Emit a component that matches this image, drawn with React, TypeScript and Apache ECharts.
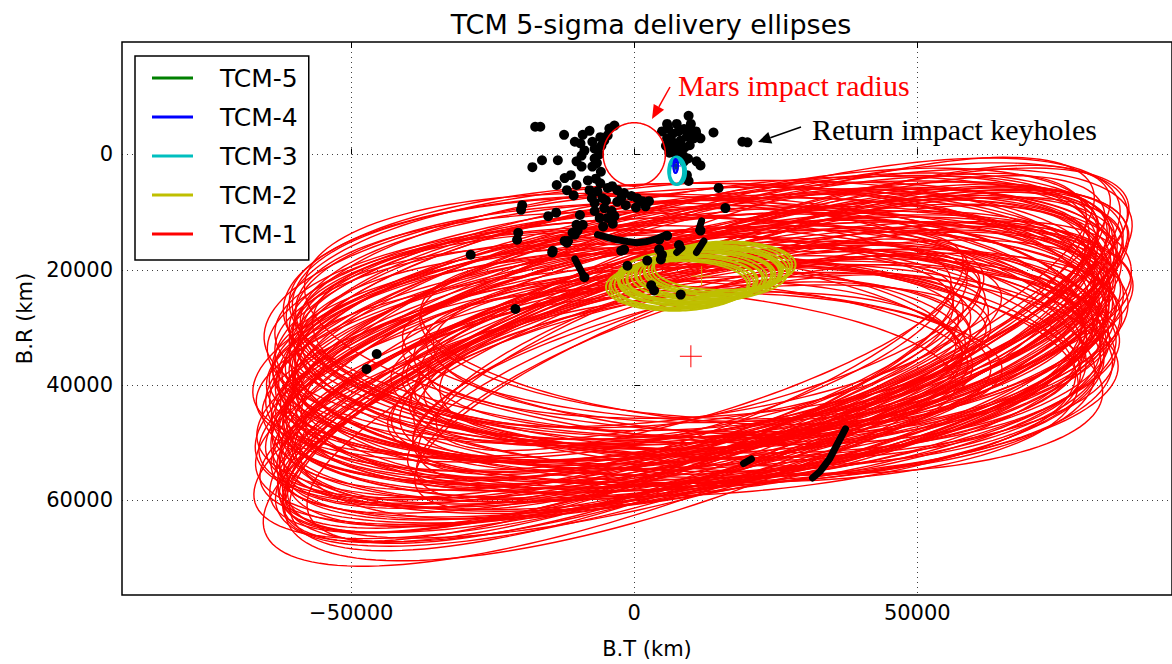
import React, { useEffect, useRef } from "react";
import * as echarts from "echarts";

// ---- axis ticks ----
const xTickValues = [-50000, 0, 50000];
const yTickValues = [0, 20000, 40000, 60000];
const legendNames = ["TCM-5", "TCM-4", "TCM-3", "TCM-2", "TCM-1"];

// ---- ellipses: [center B.T, center B.R, semi-axis 1, semi-axis 2, tilt deg] (km) ----
const tcm1Outer = [
  [10000, 33000, 76000, 19000, -21],
  [11000, 34500, 78000, 18000, -21],
  [9500, 36000, 75000, 20000, -21],
  [10500, 35500, 77000, 19000, -20],
  [12000, 37000, 74000, 18000, -20],
  [9000, 38500, 79000, 20000, -20],
  [10000, 36000, 76000, 17000, -19],
  [11500, 34000, 80000, 19000, -19],
  [9500, 39000, 75000, 21000, -19],
  [10500, 35500, 77000, 18000, -18],
  [12000, 37000, 79000, 20000, -18],
  [9000, 38000, 74000, 19000, -18],
  [11000, 31000, 78000, 21000, -17],
  [10000, 33000, 75000, 18000, -17],
  [12500, 35000, 77000, 20000, -17],
  [9500, 37000, 80000, 19000, -17],
  [10500, 39000, 76000, 17000, -16],
  [11000, 30500, 79000, 20000, -16],
  [9000, 32500, 74000, 21000, -16],
  [12000, 34000, 78000, 19000, -16],
  [10000, 36000, 75000, 20000, -15],
  [11500, 38000, 77000, 18000, -15],
  [9500, 40000, 74000, 19000, -15],
  [10500, 31500, 80000, 21000, -15],
  [10000, 29500, 74000, 21000, -14],
  [11000, 31500, 76000, 20000, -14],
  [9500, 33500, 78000, 19000, -14],
  [12000, 35500, 73000, 22000, -14],
  [10500, 37500, 75000, 20000, -13],
  [9000, 39500, 77000, 18000, -13],
  [11500, 30500, 72000, 22000, -13],
  [10000, 34500, 76000, 21000, -13],
  [12500, 36500, 74000, 19000, -12],
  [9500, 38500, 78000, 20000, -12],
  [11000, 29000, 75000, 21000, -12],
  [10000, 32000, 73000, 22000, -12],
  [10500, 40000, 76000, 18000, -11],
  [9000, 35000, 77000, 20000, -11],
  [12000, 31000, 74000, 21000, -11],
  [11000, 33000, 72000, 19000, -11],
  [10000, 37000, 75000, 22000, -10],
  [9500, 28500, 78000, 20000, -10],
  [11500, 39000, 73000, 19000, -10],
  [10500, 30500, 76000, 21000, -10],
  [12000, 34000, 77000, 20000, -9],
  [9000, 36500, 74000, 21000, -9],
  [10000, 40000, 72000, 19000, -9],
  [11000, 28500, 75000, 22000, -9],
  [10500, 32500, 78000, 18000, -8],
  [9500, 38000, 73000, 20000, -8],
  [12500, 30000, 76000, 21000, -8],
  [10000, 35500, 74000, 22000, -8],
  [10000, 27500, 74000, 21000, -7],
  [11000, 29500, 72000, 22000, -7],
  [9500, 31500, 75000, 20000, -7],
  [12000, 33500, 73000, 23000, -7],
  [10500, 35500, 76000, 21000, -6],
  [9000, 37500, 71000, 20000, -6],
  [11500, 39500, 74000, 19000, -6],
  [10000, 30000, 72000, 22000, -6],
  [12500, 32000, 75000, 21000, -5],
  [9500, 34000, 70000, 23000, -5],
  [11000, 36000, 73000, 20000, -5],
  [10000, 38500, 76000, 19000, -5],
  [10500, 27000, 71000, 22000, -4],
  [9000, 29000, 74000, 21000, -4],
  [12000, 31000, 72000, 23000, -4],
  [11000, 33000, 75000, 20000, -4],
  [10000, 35000, 70000, 22000, -3],
  [9500, 37000, 73000, 21000, -3],
  [11500, 39000, 71000, 20000, -3],
  [10500, 28000, 76000, 22000, -3],
  [12000, 30000, 73000, 21000, -2],
  [9000, 32500, 70000, 23000, -2],
  [10000, 34500, 74000, 20000, -2],
  [11000, 36500, 72000, 21000, -1],
  [10500, 38000, 75000, 19000, -1],
  [9500, 27000, 71000, 22000, -1],
  [10000, 27000, 72000, 22000, 0],
  [11000, 29000, 70000, 21000, 0],
  [9500, 31000, 73000, 20000, 0],
  [12000, 33000, 71000, 22000, 1],
  [10500, 35000, 74000, 21000, 1],
  [9000, 37000, 69000, 20000, 1],
  [11000, 28000, 72000, 21000, 2],
  [10000, 30500, 70000, 22000, 2],
  [12000, 32500, 73000, 20000, 2],
  [10500, 34500, 71000, 21000, 3],
  [9500, 36500, 69000, 20000, 3],
  [11500, 29500, 72000, 22000, 3],
  [10000, 31500, 70000, 21000, 4],
  [11000, 33500, 68000, 20000, 4],
  [12000, 35500, 71000, 19000, 5],
  [10500, 28500, 69000, 21000, 5],
];
const tcm1Inner = [
  [10000, 35000, 51000, 13500, -20],
  [10500, 37500, 53000, 12500, -18],
  [12000, 33000, 49000, 12000, -17],
  [11000, 36500, 52000, 13000, -16],
  [8500, 34000, 49000, 14000, -15],
  [9500, 38000, 50000, 12500, -14],
  [11000, 32500, 52000, 13000, -13],
  [11000, 35500, 55000, 14000, -12],
  [9500, 37000, 54000, 13000, -11],
  [11000, 33500, 46000, 14000, -10],
  [10000, 35500, 50000, 13000, -9],
  [9000, 38500, 51000, 14500, -9],
  [10500, 32000, 52000, 13500, -8],
  [12500, 36000, 50000, 12000, -7],
  [8500, 33500, 49000, 13000, -6],
  [9000, 37000, 48000, 12500, -5],
  [11500, 34500, 48000, 13000, -4],
  [12000, 32500, 51000, 13000, -3],
  [10000, 36500, 48000, 14500, -2],
  [10000, 38000, 53000, 14000, -1],
  [11500, 33000, 47000, 13500, 0],
  [12000, 35500, 53000, 12500, 2],
  [9000, 34000, 50000, 12000, 3],
  [10000, 36000, 47000, 12000, 5],
  [10000, 31500, 48000, 14000, 4],
  [9000, 39500, 50000, 13000, -19],
  [11000, 32000, 49000, 14000, 6],
  [10000, 39000, 52000, 13500, -21],
];
const tcm2Ellipses = [
  [7500, 22800, 12500, 4300, -1],
  [8000, 22600, 12400, 4200, -2],
  [8500, 22400, 12600, 4300, -1],
  [9000, 22200, 12500, 4400, -2],
  [9500, 22000, 12300, 4300, -1],
  [10000, 21800, 12600, 4200, -2],
  [10500, 21600, 12500, 4300, 0],
  [11000, 21400, 12400, 4400, -1],
  [11500, 21200, 12700, 4300, -2],
  [12000, 21000, 12500, 4200, -1],
  [12500, 20800, 12400, 4300, 0],
  [13000, 20600, 12600, 4400, -1],
  [13500, 20400, 12500, 4300, -2],
  [14000, 20200, 12300, 4200, -1],
  [14500, 20000, 12600, 4300, 0],
  [15000, 19800, 12500, 4400, -1],
  [15500, 19550, 12400, 4300, -2],
  [16000, 19300, 12500, 4200, -1],
  [11500, 21000, 14500, 4800, -2],
  [12000, 20900, 15000, 4600, -1],
];
const tcm3Ellipses = [
  [7500, 2900, 1400, 2300, 0],
  [7400, 3000, 1300, 2200, 5],
  [7600, 2800, 1500, 2400, -5],
  [7500, 3100, 1200, 2100, 0],
];
const tcm4Ellipses = [
  [7300, 2000, 400, 1200, 0],
  [7350, 2100, 350, 1100, 5],
];
const tcm5Ellipses = [[7350, 2100, 120, 400, 0]];
const marsImpact = [[0, 0, 5500, 5500, 0]];

// ---- aim points ----
const aimTcm1 = [[10000, 35000]];
const aimTcm2 = [[11900, 21100]];
const aimTcm4 = [[7350, 2000]];

// ---- return impact keyholes (km) ----
const keyholeDots = [
  [-17500, -4800], [-16600, -4800], [-12400, -3400], [-16300, 1000], [-18000, 2200], [-13500, 1000],
  [-7900, -4100], [-9100, -3400], [-10500, -2200], [-9500, -1900], [-7400, -2200], [-8800, -700], [-7000, -1000],
  [-9300, 200], [-10200, 1200], [-9300, 2100], [-7400, 2100], [-7000, 700],
  [-4400, -4500], [-3500, -5000], [-4700, -3300], [-5300, -2400],
  [-6000, -3000], [-5800, -1500], [-6200, 0], [-6600, 1500], [-5900, 3000], [-6800, 4200],
  [-12300, 4100], [-11200, 3600], [-13700, 5300], [-11900, 6200], [-10700, 7100], [-10200, 5300],
  [-8200, 4500], [-7900, 6200], [-7500, 7600], [-7000, 8400], [-6500, 6400], [-5600, 7600], [-4700, 5800],
  [-3900, 5500], [-3000, 6200], [-1800, 6700], [-500, 7200], [500, 7600], [1400, 8100],
  [-6000, 5000], [-5000, 8000], [-3000, 8200], [-1500, 8800], [-2200, 7400], [300, 9200], [2000, 9000],
  [-5300, 9300], [-4000, 9800], [-4700, 11000], [-3500, 10700], [-7000, 9800], [-6100, 11000],
  [-3800, 12000], [-5500, 12500],
  [-19800, 8800], [-20000, 9600], [-15200, 10700], [-13800, 10100],
  [-9600, 10500], [-9100, 12200], [-10200, 12200], [-10500, 13900], [-11900, 15300],
  [-20500, 13600], [-20700, 14800],
  [5800, -5300], [7500, -5300], [9600, -6700], [10000, -5300], [4900, -4000], [5800, -2800], [6700, -2200],
  [8200, -2400], [9300, -3100], [10500, -2800], [11700, -2800], [10900, -4000], [7000, -700], [8200, -200],
  [6100, -1000], [5600, -1500], [7500, 700], [8800, 1200],
  [6000, -4500], [6800, -3600], [7800, -4000], [8800, -4400], [9800, -3800], [11000, -3400],
  [6200, -300], [7000, -1500], [8900, -1200], [9800, -1600], [7700, -1000], [8700, 300], [9500, 700],
  [14000, -3800], [19100, -2200], [20000, -2100],
  [11000, 1200], [11700, 1900], [9300, 3600], [9600, 4600], [14900, 5800], [16100, 9300],
  [2600, 8100], [1800, 8400], [5800, 14100], [4400, 14800], [7900, 15700],
  [-21000, 26800], [-14400, 16700], [-12300, 15000], [-10900, 13600],
  [-2300, 16700], [-1200, 19300], [3000, 22700], [3500, 23600], [8200, 24300], [2300, 18400],
  [4400, 16500], [4900, 17400], [4700, 18200], [11700, 13200], [-1800, 16500], [-8800, 21300],
  [-28900, 17400], [-45500, 34600], [-47300, 37200], [-14500, 17000], [-11700, 15000], [-10000, 13200],
];
const keyholeArc = [[-6500, 13900], [-4700, 14400], [-3000, 14800], [-1200, 15100], [500, 15300], [2300, 15100], [4000, 14600], [5600, 13900]];
const keyholeStreakLong = [[37300, 47600], [36000, 50000], [34500, 52800], [32800, 55000], [31500, 56100]];
const keyholeStreakShort = [[19300, 53600], [20700, 52800]];
const keyholeStreakA = [[-10500, 18100], [-8800, 21300]];
const keyholeStreakB = [[7500, 17000], [8400, 16200]];
const keyholeStreakC = [[11000, 17000], [12300, 15000]];
const keyholeStreakD = [[11400, 13100], [11900, 11500]];

const FONT = "DejaVu Sans";

function ellipseSeries(name: string, data: number[][], color: string, width: number) {
  return {
    type: "custom",
    name,
    data,
    coordinateSystem: "cartesian2d",
    encode: { x: 0, y: 1 },
    clip: true,
    silent: true,
    itemStyle: { color },
    renderItem: (params: any, api: any) => {
      const cx = api.value(0);
      const cy = api.value(1);
      const a = api.value(2);
      const b = api.value(3);
      const phi = (api.value(4) * Math.PI) / 180;
      const cp = Math.cos(phi);
      const sp = Math.sin(phi);
      const pts: number[][] = [];
      const N = 160;
      for (let i = 0; i <= N; i++) {
        const t = (i / N) * Math.PI * 2;
        const ct = Math.cos(t);
        const st = Math.sin(t);
        pts.push(api.coord([cx + a * ct * cp - b * st * sp, cy + a * ct * sp + b * st * cp]));
      }
      return {
        type: "polyline",
        shape: { points: pts },
        style: { stroke: color, fill: null, lineWidth: width },
      };
    },
  };
}

function streak(data: number[][]) {
  return {
    type: "line",
    data,
    symbol: "none",
    silent: true,
    lineStyle: { color: "#000", width: 7, cap: "round", join: "round", opacity: 1 },
    z: 3,
  };
}

function plusSeries(data: number[][], color: string, size: number) {
  return {
    type: "scatter",
    data,
    symbol: "path://M10,0 L10,20 M0,10 L20,10",
    symbolSize: size,
    silent: true,
    itemStyle: { color: "rgba(0,0,0,0)", borderColor: color, borderWidth: 1, opacity: 1 },
    z: 4,
  };
}

const minusFmt = (v: number) => (v < 0 ? "\u2212" + Math.abs(v) : String(v));

export default function App() {
  const ref = useRef<HTMLDivElement>(null);
  useEffect(() => {
    document.body.style.margin = "0";
    const chart = echarts.init(ref.current!, null, { renderer: "svg" });
    const gridLine = { show: true, lineStyle: { color: "#000", width: 1, type: [1, 4], opacity: 0.75 } };
    chart.setOption({
      animation: false,
      grid: { left: 122, top: 42, width: 1061, height: 558, show: true, borderColor: "#000", borderWidth: 1.5, backgroundColor: "#fff" },
      xAxis: [
        {
          type: "value",
          min: -90500,
          max: 95000,
          position: "bottom",
          axisLine: { show: false },
          axisTick: { show: true, inside: true, length: 6, customValues: xTickValues, lineStyle: { color: "#000" } },
          axisLabel: { customValues: xTickValues, formatter: minusFmt, fontFamily: FONT, fontSize: 21, color: "#000", margin: 7 },
          splitLine: gridLine,
          name: "B.T (km)",
          nameLocation: "middle",
          nameGap: 43,
          nameTextStyle: { fontFamily: FONT, fontSize: 21, color: "#000" },
        },
        {
          type: "value",
          min: -90500,
          max: 95000,
          position: "top",
          axisLine: { show: false },
          axisTick: { show: true, inside: true, length: 6, customValues: xTickValues, lineStyle: { color: "#000" } },
          axisLabel: { show: false },
          splitLine: { show: false },
        },
      ],
      yAxis: {
        type: "value",
        inverse: true,
        min: -19500,
        max: 76400,
        axisLine: { show: false },
        axisTick: { show: true, inside: true, length: 6, customValues: yTickValues, lineStyle: { color: "#000" } },
        axisLabel: { customValues: yTickValues, formatter: minusFmt, fontFamily: FONT, fontSize: 21, color: "#000", margin: 9 },
        splitLine: gridLine,
        name: "B.R (km)",
        nameLocation: "middle",
        nameGap: 87,
        nameRotate: 90,
        nameTextStyle: { fontFamily: FONT, fontSize: 21, color: "#000" },
      },
      legend: {
        data: legendNames,
        orient: "vertical",
        left: 135,
        top: 56,
        icon: "rect",
        itemWidth: 41,
        itemHeight: 3,
        itemGap: 13,
        padding: [9, 11, 13, 17],
        borderColor: "#000",
        borderWidth: 1.5,
        borderRadius: 0,
        backgroundColor: "#fff",
        selectedMode: false,
        textStyle: { fontFamily: FONT, fontSize: 25, color: "#000", lineHeight: 26, padding: [0, 0, 0, 22] },
        z: 10,
      },
      series: [
        ellipseSeries("TCM-1", [...tcm1Outer, ...tcm1Inner], "#ff0000", 1.4),
        ellipseSeries("TCM-2", tcm2Ellipses, "#bfbf00", 2),
        {
          type: "scatter",
          name: "Return impact keyholes",
          data: keyholeDots,
          symbolSize: 10,
          silent: true,
          itemStyle: { color: "#000", opacity: 1 },
          z: 3,
        },
        streak(keyholeArc),
        streak(keyholeStreakLong),
        streak(keyholeStreakShort),
        streak(keyholeStreakA),
        streak(keyholeStreakB),
        streak(keyholeStreakC),
        streak(keyholeStreakD),
        { ...ellipseSeries("TCM-3", tcm3Ellipses, "#00bfbf", 2.5), z: 4 },
        { ...ellipseSeries("TCM-4", tcm4Ellipses, "#0000ff", 2), z: 4 },
        { ...ellipseSeries("TCM-5", tcm5Ellipses, "#008000", 1.5), z: 4 },
        { ...ellipseSeries("Mars impact radius", marsImpact, "#ff0000", 1.5), z: 4 },
        plusSeries(aimTcm1, "#ff0000", 22),
        plusSeries(aimTcm2, "#d4a000", 20),
        plusSeries(aimTcm4, "#0000ff", 10),
      ],
      graphic: [
        {
          type: "text",
          x: 651,
          y: 24,
          style: { text: "TCM 5-sigma delivery ellipses", font: `27px "${FONT}"`, fill: "#000", textAlign: "center", textVerticalAlign: "middle" },
        },
        {
          type: "text",
          x: 678,
          y: 85,
          style: { text: "Mars impact radius", font: '30px "Liberation Serif"', fill: "#ff0000", textAlign: "left", textVerticalAlign: "middle" },
        },
        { type: "line", shape: { x1: 670, y1: 87, x2: 658.9, y2: 106.8 }, style: { stroke: "#ff0000", lineWidth: 1.5 } },
        { type: "polygon", shape: { points: [[652, 119], [664.1, 109.7], [653.7, 103.9]] }, style: { fill: "#ff0000" } },
        {
          type: "text",
          x: 812,
          y: 129.5,
          style: { text: "Return impact keyholes", font: '30px "Liberation Serif"', fill: "#000", textAlign: "left", textVerticalAlign: "middle" },
        },
        { type: "line", shape: { x1: 801, y1: 127, x2: 770.3, y2: 137.7 }, style: { stroke: "#000", lineWidth: 1.5 } },
        { type: "polygon", shape: { points: [[758, 142], [772.3, 143.4], [768.3, 132.0]] }, style: { fill: "#000" } },
      ],
    });
    return () => chart.dispose();
  }, []);
  return <div ref={ref} style={{ width: 1172, height: 664 }} />;
}
